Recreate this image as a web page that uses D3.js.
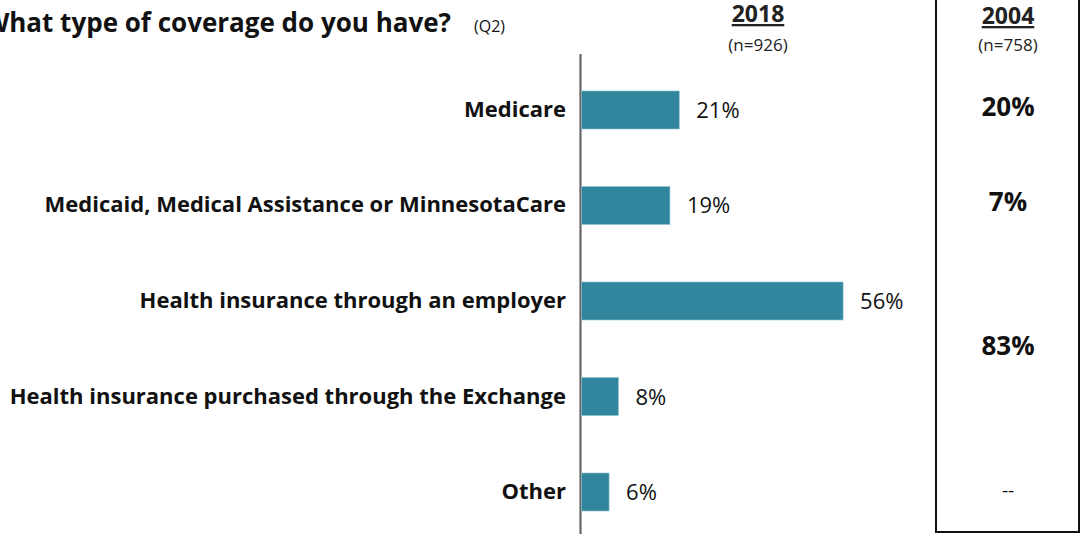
<!DOCTYPE html>
<html><head><meta charset="utf-8">
<script src="https://cdn.jsdelivr.net/npm/d3@7"></script>
<style>
html,body{margin:0;padding:0;background:#fff;overflow:hidden;}
text{font-family:"Open Sans", sans-serif;}
</style></head>
<body>
<svg id="chart" width="1084" height="534"></svg>
<script>
const categories = ["Medicare","Medicaid, Medical Assistance or MinnesotaCare","Health insurance through an employer","Health insurance purchased through the Exchange","Other"];
const values2018 = [21, 19, 56, 8, 6];
const labels2004 = [
  {text:"20%", rows:[0]},
  {text:"7%", rows:[1]},
  {text:"83%", rows:[2,3]},
  {text:"--", rows:[4]}
];
const titleText = "What type of coverage do you have?";
const titleNote = "(Q2)";
const col2018 = {year:"2018", n:"(n=926)"};
const col2004 = {year:"2004", n:"(n=758)"};

const svg = d3.select("#chart");
const W = 1084, H = 534;
const x = d3.scaleLinear().domain([0,100]).range([581, 1049]);
const y = d3.scaleBand().domain(categories).range([33.5, 568.5]).paddingInner(0.602).paddingOuter(0.602);
const barColor = "#31859c";

// title
svg.append("text").attr("x",451).attr("y",32).attr("text-anchor","end")
  .attr("font-size",26).attr("font-weight","bold").attr("fill","#111").text(titleText);
svg.append("text").attr("x",474).attr("y",32)
  .attr("font-size",16).attr("fill","#111").text(titleNote);

// axis line
svg.append("line").attr("x1",x(0)-0.5).attr("x2",x(0)-0.5).attr("y1",54).attr("y2",H)
  .attr("stroke","#666").attr("stroke-width",2.2);

// bars
svg.selectAll("rect.bar").data(values2018).enter().append("rect").attr("class","bar")
  .attr("x",x(0)+0.5).attr("y",(d,i)=>y(categories[i]))
  .attr("width",d=>x(d)-x(0)-0.5).attr("height",y.bandwidth())
  .attr("fill",barColor).attr("stroke","#8fc3d1").attr("stroke-width",0.6);

// value labels
svg.selectAll("text.val").data(values2018).enter().append("text").attr("class","val")
  .attr("x",d=>x(d)+17).attr("y",(d,i)=>y(categories[i])+y.bandwidth()/2+8)
  .attr("font-size",22).attr("fill","#111").text(d=>d+"%");

// category labels
svg.selectAll("text.cat").data(categories).enter().append("text").attr("class","cat")
  .attr("x",566).attr("y",d=>y(d)+y.bandwidth()/2+7)
  .attr("text-anchor","end").attr("font-size",22).attr("font-weight","bold").attr("fill","#111").text(d=>d);

// column headers
function header(cx, info, yy){
  svg.append("text").attr("x",cx).attr("y",yy).attr("text-anchor","middle")
    .attr("font-size",23).attr("font-weight","bold").attr("fill","#222")
    .attr("text-decoration","underline").text(info.year);
  svg.append("text").attr("x",cx).attr("y",51).attr("text-anchor","middle")
    .attr("font-size",17).attr("fill","#222").text(info.n);
}
header(758, col2018, 22);
header(1008, col2004, 24);

// 2004 box
svg.append("rect").attr("x",936).attr("y",-10).attr("width",143).attr("height",542)
  .attr("fill","none").attr("stroke","#111").attr("stroke-width",2);

// 2004 values
svg.selectAll("text.v04").data(labels2004).enter().append("text").attr("class","v04")
  .attr("x",1008)
  .attr("y",d=>{const c=d3.mean(d.rows,r=>y(categories[r])+y.bandwidth()/2); return c+(d.text==="--"?5:6);})
  .attr("text-anchor","middle")
  .attr("font-size",d=>d.text==="--"?19:26)
  .attr("font-weight",d=>d.text==="--"?"normal":"bold")
  .attr("fill","#111").text(d=>d.text);
</script>
</body></html>
